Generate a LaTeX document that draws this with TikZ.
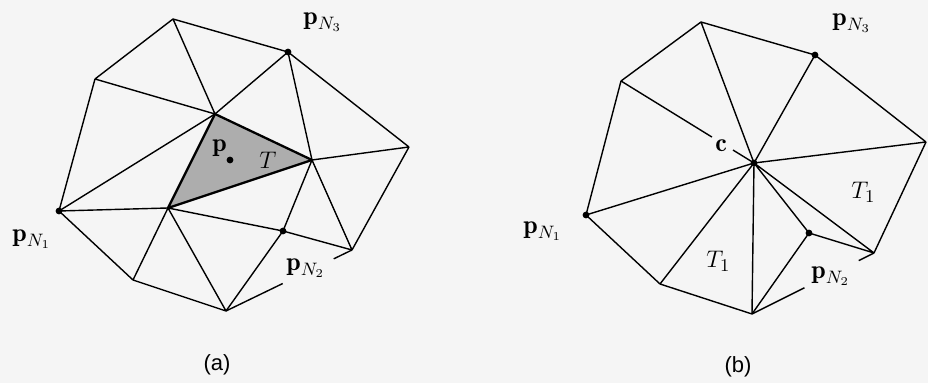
\documentclass[tikz,border=0pt]{standalone}
\usepackage{fontspec}
\newfontfamily\capsf{Liberation Sans}
\usetikzlibrary{calc}
\begin{document}
\begin{tikzpicture}[x=0.5pt,y=-0.5pt,
  edge/.style={line width=0.7pt, line join=round},
  bold edge/.style={line width=1.15pt, line join=round},
  dotmark/.style={circle, fill=black, inner sep=0pt, minimum size=3.4pt},
  lbl/.style={inner sep=0pt, anchor=base west, font=\fontsize{13}{15}\selectfont},
  captext/.style={inner sep=0pt, font=\capsf\fontsize{11}{13}\selectfont}]
\fill[black!4] (0,0) rectangle (928,383);
\useasboundingbox (0,0) rectangle (928,383);
% ---------- (a) ----------
\coordinate (A) at (173,19);
\coordinate (B) at (288,52);
\coordinate (C) at (95,79);
\coordinate (D) at (215,114);
\coordinate (E) at (312,160);
\coordinate (F) at (409,147);
\coordinate (G) at (59,211);
\coordinate (H) at (168,208);
\coordinate (I) at (283,231);
\coordinate (J) at (352,250);
\coordinate (K) at (133,280);
\coordinate (L) at (226,311);
\fill[black!32] (D) -- (E) -- (H) -- cycle;
\draw[edge] (A) -- (B) (A) -- (C) (A) -- (D) (C) -- (D) (C) -- (G)
  (B) -- (D) (B) -- (E) (B) -- (F) (G) -- (D) (G) -- (H)
  (E) -- (F) (E) -- (I) (E) -- (J) (F) -- (J) (H) -- (I) (I) -- (J)
  (H) -- (K) (H) -- (L) (G) -- (K) (K) -- (L) (I) -- (L);
\draw[edge] (L) -- ($(L)!0.45!(J)$);
\draw[edge] (J) -- ($(L)!0.855!(J)$);
\draw[bold edge] (D) -- (E) -- (H) -- cycle;
\node[dotmark] (gN1) at (G) {};
\node[dotmark] (gN2) at (I) {};
\node[dotmark] (gN3) at (B) {};
\node[dotmark] (gp) at (230,160) {};
\node[lbl] (lp) at (212,152) {$\mathbf{p}$};
\node[lbl] (lT) at (259,169) {$T$};
\node[lbl] (lN1) at (12,242) {$\mathbf{p}_{N_1}$};
\node[lbl] (lN2) at (286,271) {$\mathbf{p}_{N_2}$};
\node[lbl] (lN3) at (303,25) {$\mathbf{p}_{N_3}$};
\node[captext] (capa) at (217,365) {(a)};
% ---------- (b) ----------
\coordinate (A2) at (701,22);
\coordinate (B2) at (815,55);
\coordinate (C2) at (621,81);
\coordinate (c2) at (754,163);
\coordinate (F2) at (926,142);
\coordinate (G2) at (586,215);
\coordinate (I2) at (809,233);
\coordinate (J2) at (874,253);
\coordinate (K2) at (660,284);
\coordinate (L2) at (752,314);
\draw[edge] (A2) -- (B2) (A2) -- (C2) (A2) -- (c2) (C2) -- (G2)
  (B2) -- (c2) (B2) -- (F2) (c2) -- (F2) (c2) -- (G2) (c2) -- (K2)
  (c2) -- (L2) (c2) -- (I2) (c2) -- (J2) (F2) -- (J2) (I2) -- (J2)
  (G2) -- (K2) (K2) -- (L2) (L2) -- (I2);
\draw[edge] (C2) -- ($(C2)!0.684!(c2)$);
\draw[edge] (c2) -- ($(C2)!0.842!(c2)$);
\draw[edge] (L2) -- ($(L2)!0.43!(J2)$);
\draw[edge] (J2) -- ($(L2)!0.875!(J2)$);
\node[dotmark] (hN1) at (G2) {};
\node[dotmark] (hN2) at (I2) {};
\node[dotmark] (hN3) at (B2) {};
\node[dotmark] (hc) at (c2) {};
\node[lbl] (lc) at (715,152) {$\mathbf{c}$};
\node[lbl] (lT1a) at (851,199) {$T_1$};
\node[lbl] (lT1b) at (706,268) {$T_1$};
\node[lbl] (mN1) at (523,234) {$\mathbf{p}_{N_1}$};
\node[lbl] (mN2) at (811,279) {$\mathbf{p}_{N_2}$};
\node[lbl] (mN3) at (832,26) {$\mathbf{p}_{N_3}$};
\node[captext] (capb) at (738,367) {(b)};
\end{tikzpicture}
\end{document}
